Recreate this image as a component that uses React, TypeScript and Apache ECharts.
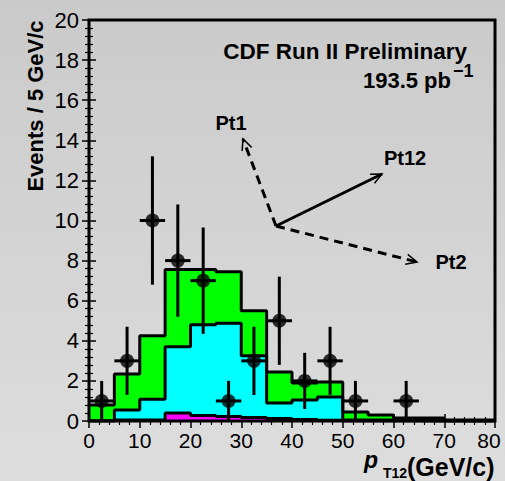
import React, { useEffect, useRef } from "react";
import * as echarts from "echarts";

// bin edges (GeV/c), 5 GeV bins
const binEdges = [0, 5, 10, 15, 20, 25, 30, 35, 40, 45, 50, 55, 60, 65, 70, 75, 80];
// cumulative stacked tops per bin
const totalTop = [0.8, 2.35, 4.25, 7.55, 7.55, 7.45, 5.5, 2.45, 1.9, 1.95, 0.45, 0.3, 0.15, 0.15, 0.05, 0.05];
const cyanTop = [0.0, 0.55, 1.08, 3.7, 4.8, 4.87, 3.25, 0.9, 1.05, 1.2, 0.05, 0.05, 0.02, 0, 0, 0];
const magentaTop = [0.0, 0.05, 0.05, 0.4, 0.28, 0.22, 0.18, 0.12, 0.08, 0.04, 0, 0, 0, 0, 0, 0];

// data points
const dataX = [2.5, 7.5, 12.5, 17.5, 22.5, 27.5, 32.5, 37.5, 42.5, 47.5, 52.5, 62.5];
const dataY = [1, 3, 10, 8, 7, 1, 3, 5, 2, 3, 1, 1];
const errLow = [0, 1.3, 6.8, 5.2, 4.35, 0, 1.3, 2.8, 0.6, 1.3, 0, 0];
const errHigh = [2, 4.7, 13.2, 10.8, 9.65, 2, 4.7, 7.2, 3.4, 4.7, 2, 2];
const halfBin = 2.5;

const xTicks = { min: 0, max: 80, interval: 10 };
const yTicks = { min: 0, max: 20, interval: 2 };

const FONT = "'Liberation Sans', Arial, Helvetica, sans-serif";

function stepData(vals: number[]) {
  return binEdges.map((e, i) => [e, vals[Math.min(i, vals.length - 1)]]);
}

function histSeries(vals: number[], color: string) {
  return {
    type: "line",
    step: "end",
    data: stepData(vals),
    symbol: "none",
    lineStyle: { color: "#000", width: 3 },
    areaStyle: { color, opacity: 1 },
    z: 2,
  };
}

function txt(text: string, x: number, y: number, size: number, align: string, extra: any = {}) {
  return {
    type: "text",
    x,
    y,
    z: 100,
    ...extra,
    style: {
      text,
      fontSize: size,
      fontWeight: "bold",
      fontFamily: FONT,
      fontStyle: extra.fontStyle || "normal",
      fill: "#000",
      align,
      verticalAlign: "middle",
      textAlign: align,
      textVerticalAlign: "middle",
    },
  };
}

function arrow(x1: number, y1: number, x2: number, y2: number, dashed: boolean) {
  const ang = Math.atan2(y1 - y2, x1 - x2);
  const L = 12;
  const a = (25 * Math.PI) / 180;
  const p1 = [x2 + L * Math.cos(ang + a), y2 + L * Math.sin(ang + a)];
  const p2 = [x2 + L * Math.cos(ang - a), y2 + L * Math.sin(ang - a)];
  return [
    {
      type: "line",
      z: 100,
      shape: { x1, y1, x2, y2 },
      style: { stroke: "#000", lineWidth: 3, lineDash: dashed ? [9, 6] : null },
    },
    {
      type: "polyline",
      z: 100,
      shape: { points: [p1, [x2, y2], p2] },
      style: { stroke: "#000", lineWidth: 1.5, fill: null },
    },
  ];
}

export default function App() {
  const ref = useRef<HTMLDivElement>(null);
  useEffect(() => {
    if (!ref.current) return;
    const chart = echarts.init(ref.current, null, { renderer: "svg" });
    const ox = 276, oy = 226;
    const axisCommon = {
      type: "value",
      axisLine: { show: false },
      splitLine: { show: false },
      axisTick: { inside: true, length: 7, lineStyle: { color: "#000", width: 1.5 } },
      minorTick: { show: true, splitNumber: 5, length: 4, lineStyle: { color: "#000", width: 1.2 } },
    };
    chart.setOption({
      animation: false,
      backgroundColor: new echarts.graphic.LinearGradient(0, 0, 0, 1, [
        { offset: 0, color: "#cacaca" },
        { offset: 1, color: "#dddddd" },
      ]),
      grid: {
        left: 89,
        right: 10,
        top: 20,
        bottom: 60,
        show: true,
        borderColor: "#000",
        borderWidth: 3,
        backgroundColor: "transparent",
        z: 10,
      },
      xAxis: [
        {
          ...axisCommon,
          ...xTicks,
          position: "bottom",
          axisLabel: {
            fontSize: 21,
            color: "#000",
            fontFamily: FONT,
            margin: 9,
            formatter: (v: number) => (v === 80 ? "{e|80}" : String(v)),
            rich: { e: { fontSize: 21, color: "#000", fontFamily: FONT, padding: [0, 12, 0, 0] } },
          },
        },
        { ...axisCommon, ...xTicks, position: "top", axisLabel: { show: false } },
      ],
      yAxis: [
        {
          ...axisCommon,
          ...yTicks,
          position: "left",
          axisLabel: { fontSize: 22, color: "#000", fontFamily: FONT, margin: 10 },
        },
        { ...axisCommon, ...yTicks, position: "right", axisLabel: { show: false } },
      ],
      series: [
        histSeries(totalTop, "#00ff00"),
        histSeries(cyanTop, "#00ffff"),
        histSeries(magentaTop, "#ff00ff"),
        {
          type: "custom",
          z: 5,
          data: dataX.map((x, i) => [x, dataY[i], errLow[i], errHigh[i]]),
          encode: { x: 0, y: 1 },
          renderItem: (params: any, api: any) => {
            const x = api.value(0), y = api.value(1), lo = api.value(2), hi = api.value(3);
            const a = api.coord([x, lo]);
            const b = api.coord([x, hi]);
            const l = api.coord([x - halfBin, y]);
            const r = api.coord([x + halfBin, y]);
            return {
              type: "group",
              children: [
                { type: "line", shape: { x1: a[0], y1: a[1], x2: b[0], y2: b[1] }, style: { stroke: "#000", lineWidth: 3 } },
                { type: "line", shape: { x1: l[0], y1: l[1], x2: r[0], y2: r[1] }, style: { stroke: "#000", lineWidth: 3 } },
              ],
            };
          },
        },
        {
          type: "scatter",
          z: 6,
          data: dataX.map((x, i) => [x, dataY[i]]),
          symbol: "circle",
          symbolSize: 14,
          itemStyle: { color: "#000" },
        },
      ],
      graphic: [
        txt("Events / 5 GeV/c", 35, 106, 22, "center", { rotation: Math.PI / 2 }),
        txt("CDF Run II Preliminary", 467, 51, 22.5, "right"),
        txt("193.5 pb", 451, 80, 22, "right"),
        txt("\u22121", 453, 71, 18, "left"),
        txt("Pt1", 231, 123, 20, "center"),
        txt("Pt12", 405, 158, 20, "center"),
        txt("Pt2", 451, 262, 20, "center"),
        txt("p", 364, 460, 23, "left", { fontStyle: "italic" }),
        txt("T12", 383, 473, 14, "left"),
        txt("(GeV/c)", 407, 467, 25, "left"),
        ...arrow(ox, oy, 243, 139, true),
        ...arrow(ox, oy, 382, 174, false),
        ...arrow(ox, oy, 417, 262, true),
      ],
    });
    return () => chart.dispose();
  }, []);
  return (
    <div
      ref={ref}
      style={{ position: "fixed", left: 0, top: 0, width: 505, height: 481 }}
    />
  );
}
